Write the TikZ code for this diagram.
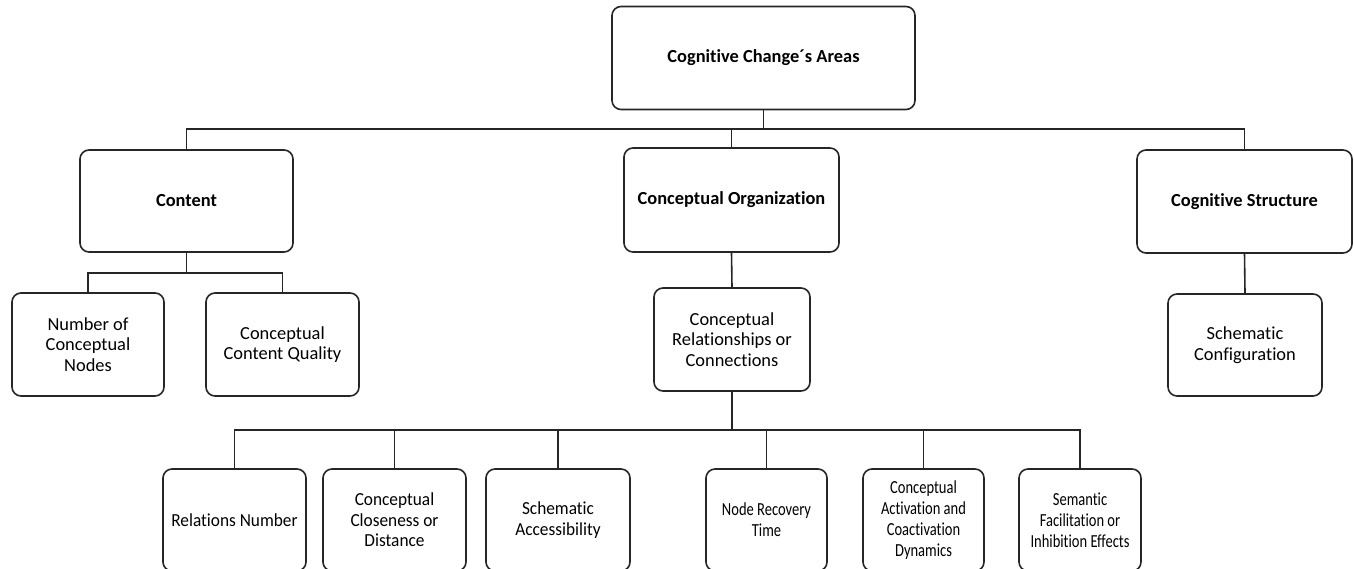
\documentclass[tikz,border=0pt]{standalone}
\usepackage{fontspec}
\setmainfont[RawFeature={-liga}]{Carlito}
\newfontfamily\narrowA[RawFeature={-liga},FakeStretch=0.94]{Carlito}
\newfontfamily\narrowB[RawFeature={-liga},FakeStretch=0.79]{Carlito}
\begin{document}
\begin{tikzpicture}[x=1pt,y=-1pt,
  box/.style={draw=black!85, line width=1.6pt, rounded corners=9pt, align=center,
    font=\fontsize{18.4}{20.5}\selectfont, inner sep=2pt},
  bbox/.style={box, font=\fontsize{18.4}{20.5}\selectfont\bfseries},
  leafA/.style={box, minimum height=102pt, font=\narrowA\fontsize{18.4}{20.5}\selectfont},
  leafB/.style={box, minimum height=102pt, font=\narrowB\fontsize{18.4}{21}\selectfont},
  link/.style={draw=black!85, line width=1.6pt}]
\useasboundingbox (0,0) rectangle (1354,569);
\clip (0,0) rectangle (1354,569);
% level 0
\node[bbox, minimum width=303pt, minimum height=103pt] (top) at (763.5,58) {Cognitive Change´s Areas};
% level 1
\node[bbox, minimum width=213pt, minimum height=102pt] (content) at (186.5,201) {Content};
\node[bbox, minimum width=215pt, minimum height=104pt] (org) at (731.5,200) {Conceptual Organization};
\node[bbox, minimum width=215pt, minimum height=103pt] (struct) at (1244.5,201.5) {Cognitive Structure};
% level 2
\node[box, minimum width=152pt, minimum height=103pt] (nodes) at (88,344.5) {Number of\\Conceptual\\Nodes};
\node[box, minimum width=153pt, minimum height=103pt] (quality) at (282.5,344.5) {Conceptual\\Content Quality};
\node[box, minimum width=156pt, minimum height=103pt] (rel) at (732,339.5) {Conceptual\\Relationships or\\Connections};
\node[box, minimum width=154pt, minimum height=102pt] (schem) at (1245,345) {Schematic\\Configuration};
% level 3
\node[leafA, minimum width=143pt] (r1) at (234.5,520) {Relations Number};
\node[leafA, minimum width=143pt] (r2) at (394.5,520) {Conceptual\\Closeness or\\Distance};
\node[leafA, minimum width=144pt] (r3) at (558,520) {Schematic\\Accessibility};
\node[leafB, minimum width=121pt] (r4) at (766.5,520) {Node Recovery\\Time};
\node[leafB, minimum width=121pt] (r5) at (923.5,520) {Conceptual\\Activation and\\Coactivation\\Dynamics};
\node[leafB, minimum width=122pt] (r6) at (1080,520) {Semantic\\Facilitation or\\Inhibition Effects};
% buses
\coordinate (bus1) at (0,129);
\coordinate (bus2) at (0,273);
\coordinate (bus3) at (0,430);
% connectors level 0-1
\draw[link] (top.south) -- (top.south |- bus1);
\draw[link] (content.north) |- (struct.north |- bus1) -- (struct.north);
\draw[link] (org.north) -- (org.north |- bus1);
% content children
\draw[link] (content.south) -- (content.south |- bus2);
\draw[link] (nodes.north) |- (quality.north |- bus2) -- (quality.north);
% org and struct children
\draw[link] (org.south) -- (rel.north);
\draw[link] (struct.south) -- (schem.north);
% relationships children
\draw[link] (rel.south) -- (rel.south |- bus3);
\draw[link] (r1.north) |- (r6.north |- bus3) -- (r6.north);
\foreach \n in {r2,r3,r4,r5} \draw[link] (\n.north) -- (\n.north |- bus3);
\end{tikzpicture}
\end{document}
